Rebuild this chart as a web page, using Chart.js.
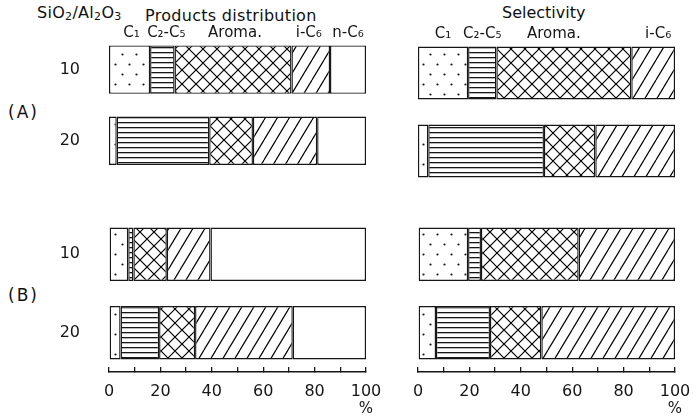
<!DOCTYPE html>
<html>
<head>
<meta charset="utf-8">
<script src="https://cdn.jsdelivr.net/npm/chart.js@4.4.0/dist/chart.umd.min.js"></script>
<style>
body { margin: 0; background: #fff; width: 696px; height: 418px; position: relative; overflow: hidden; font-family: 'DejaVu Sans', sans-serif; color: #111; }
canvas { position: absolute; }
.lbl { position: absolute; font-size: 16px; line-height: 1; white-space: nowrap; letter-spacing: 0.3px; }
.lbl sub { font-size: 11px; vertical-align: -2px; }
</style>
</head>
<body>
<div class="lbl" style="left:37px;top:5px">SiO<sub>2</sub>/Al<sub>2</sub>O<sub>3</sub></div>
<div class="lbl" style="left:145px;top:8px">Products distribution</div>
<div class="lbl" style="left:502px;top:5px;letter-spacing:0">Selectivity</div>
<div class="lbl" style="left:8px;top:104px;font-size:17px;letter-spacing:2px">(A)</div>
<div class="lbl" style="left:8px;top:287px;font-size:17px;letter-spacing:2px">(B)</div>

<canvas id="prodA" width="420" height="190" style="left:0;top:0"></canvas>
<canvas id="selA" width="330" height="190" style="left:392px;top:0"></canvas>
<canvas id="prodB" width="420" height="228" style="left:0;top:190px"></canvas>
<canvas id="selB" width="330" height="228" style="left:392px;top:190px"></canvas>

<script>
// SiO2/Al2O3 ratios (rows)
const ratios = ['10', '20'];
const prodNames = ['C₁', 'C₂-C₅', 'Aroma.', 'i-C₆', 'n-C₆'];
const selNames = ['C₁', 'C₂-C₅', 'Aroma.', 'i-C₆'];

// products distribution, % (C1, C2-C5, aroma, i-C6, n-C6)
const prodA10 = [16, 9.5, 45.5, 15, 14];
const prodA20 = [3, 36, 17, 25, 19];
const prodB10 = [7.5, 2, 13, 17, 60.5];
const prodB20 = [4.5, 15, 14, 38, 28.5];

// selectivity, % (C1, C2-C5, aroma, i-C6)
const selA10 = [19.5, 11, 52.5, 17];
const selA20 = [4, 45, 20, 31];
const selB10 = [19.5, 5, 38, 37.5];
const selB20 = [7, 21, 20, 52];

const ink = '#161616';
const hatchKinds = ['dots', 'hlines', 'cross', 'slash', 'none'];

function makePattern(ctx, kind) {
    if (kind === 'none') return '#ffffff';
    const c = document.createElement('canvas');
    const g = c.getContext('2d');
    g.strokeStyle = ink;
    if (kind === 'dots') {
        c.width = 14; c.height = 20;
        g.fillStyle = '#fff'; g.fillRect(0, 0, 14, 20);
        g.fillStyle = ink;
        g.beginPath(); g.arc(3.5, 4.5, 1.1, 0, Math.PI * 2); g.fill();
        g.beginPath(); g.arc(10.5, 14.5, 1.1, 0, Math.PI * 2); g.fill();
    } else if (kind === 'hlines') {
        c.width = 8; c.height = 5;
        g.fillStyle = '#fff'; g.fillRect(0, 0, 8, 5);
        g.fillStyle = ink; g.fillRect(0, 2, 8, 1.3);
    } else if (kind === 'cross') {
        c.width = 14; c.height = 14;
        g.fillStyle = '#fff'; g.fillRect(0, 0, 14, 14);
        g.lineWidth = 1.2;
        g.beginPath();
        g.moveTo(-1, -1); g.lineTo(15, 15);
        g.moveTo(-1, 15); g.lineTo(15, -1);
        g.stroke();
    } else if (kind === 'slash') {
        const w = 12, h = 20;
        c.width = w; c.height = h;
        g.fillStyle = '#fff'; g.fillRect(0, 0, w, h);
        g.lineWidth = 1.2;
        g.beginPath();
        for (const dx of [-w, 0, w]) { g.moveTo(dx, h); g.lineTo(dx + w, 0); }
        g.stroke();
    }
    return ctx.createPattern(c, 'repeat');
}

// writes the component names above the first bar of the panel
const segLabels = {
    id: 'segLabels',
    afterDatasetsDraw(chart, args, opts) {
        const ctx = chart.ctx;
        const nudge = opts.nudge || [];
        ctx.save();
        ctx.fillStyle = ink;
        ctx.font = '15px "DejaVu Sans"';
        ctx.textAlign = 'center';
        ctx.textBaseline = 'bottom';
        chart.data.datasets.forEach((ds, i) => {
            const bar = chart.getDatasetMeta(i).data[0];
            const p = bar.getProps(['x', 'y', 'base', 'height'], true);
            ctx.fillText(ds.label, (p.x + p.base) / 2 + (nudge[i] || 0), p.y - p.height / 2 - 5);
        });
        ctx.restore();
    }
};

const percentMark = {
    id: 'percentMark',
    afterDraw(chart) {
        const sx = chart.scales.x;
        const ctx = chart.ctx;
        ctx.save();
        ctx.fillStyle = ink;
        ctx.font = '15px "DejaVu Sans"';
        ctx.textAlign = 'center';
        ctx.textBaseline = 'middle';
        ctx.fillText('%', sx.getPixelForValue(100), sx.bottom - 9);
        ctx.restore();
    }
};

function buildChart(id, names, row10, row20, opts) {
    const canvas = document.getElementById(id);
    const ctx = canvas.getContext('2d');
    const datasets = names.map((name, i) => ({
        label: name,
        data: [row10[i], row20[i]],
        backgroundColor: makePattern(ctx, hatchKinds[i]),
        borderColor: ink,
        borderWidth: 1.4,
        borderSkipped: false,
        categoryPercentage: 0.68,
        barPercentage: 1
    }));
    const xScale = {
        type: 'linear', stacked: true, min: 0, max: 100,
        display: opts.showX,
        border: { display: true, color: ink, width: 1.5 },
        grid: { drawOnChartArea: false, drawTicks: true, tickLength: -5, color: ink, lineWidth: 1.3 },
        ticks: {
            stepSize: 10, autoSkip: false, maxRotation: 0,
            color: ink, padding: 15,
            font: { family: 'DejaVu Sans', size: 16 },
            callback: v => (v % 20 === 0 ? String(v) : '')
        }
    };
    if (opts.showX) xScale.afterFit = s => { s.height = 46; };
    const yScale = {
        type: 'category', stacked: true,
        display: opts.showY,
        border: { display: false },
        grid: { drawOnChartArea: false, drawTicks: true, tickLength: 25, color: 'rgba(0,0,0,0)' },
        ticks: { color: ink, padding: 4, font: { family: 'DejaVu Sans', size: 16 } }
    };
    if (opts.showY) yScale.afterFit = s => { s.width = 109; };
    return new Chart(ctx, {
        type: 'bar',
        data: { labels: ratios, datasets: datasets },
        options: {
            indexAxis: 'y',
            responsive: false,
            animation: false,
            layout: { padding: opts.padding },
            scales: { x: xScale, y: yScale },
            plugins: {
                legend: { display: false },
                tooltip: { enabled: false },
                segLabels: { nudge: opts.nudge }
            }
        },
        plugins: opts.plugins
    });
}

buildChart('prodA', prodNames, prodA10, prodA20,
    { padding: { top: 34, right: 54, left: 0, bottom: 0 }, showX: false, showY: true,
      plugins: [segLabels], nudge: [2, 4, 2, -2, 0] });
buildChart('selA', selNames, selA10, selA20,
    { padding: { top: 34, right: 47, left: 26, bottom: 0 }, showX: false, showY: false,
      plugins: [segLabels], nudge: [0, 0, -10, 5] });
buildChart('prodB', prodNames, prodB10, prodB20,
    { padding: { top: 25, right: 54, left: 0, bottom: 0 }, showX: true, showY: true, plugins: [percentMark] });
buildChart('selB', selNames, selB10, selB20,
    { padding: { top: 25, right: 47, left: 26, bottom: 0 }, showX: true, showY: false, plugins: [percentMark] });
</script>
</body>
</html>
